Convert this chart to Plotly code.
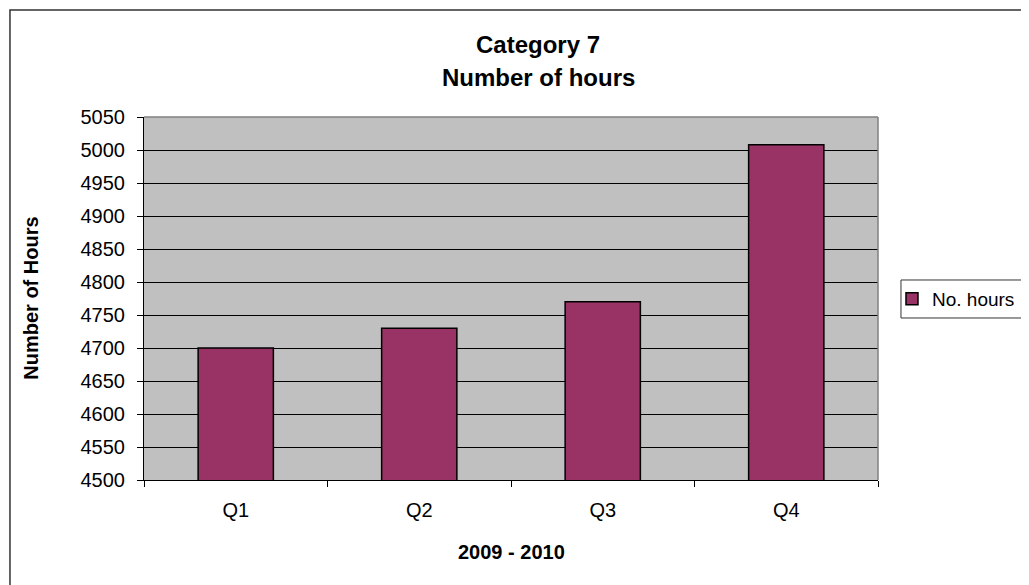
import plotly.graph_objects as go

# quarters for 2009 - 2010
quarters = ["Q1", "Q2", "Q3", "Q4"]
no_hours = [4700, 4730, 4770, 5008]

BAR_COLOR = "#993366"
PLOT_BG = "#C0C0C0"
FONT = "Liberation Sans, Arial, sans-serif"

fig = go.Figure()
fig.add_trace(
    go.Bar(
        name="No. hours",
        x=quarters,
        y=no_hours,
        width=0.41,
        marker=dict(color=BAR_COLOR, line=dict(color="black", width=1.5)),
    )
)

# page body has an 8px margin, so the figure is a bit smaller than the window
fig.update_layout(
    width=1021,
    height=577,
    margin=dict(l=136, r=151, t=109, b=105),
    paper_bgcolor="white",
    plot_bgcolor=PLOT_BG,
    font=dict(family=FONT, size=20, color="black"),
    showlegend=True,
    legend=dict(
        xref="container",
        yref="container",
        x=0.8658,
        xanchor="left",
        y=0.4957,
        yanchor="middle",
        bgcolor="rgba(0,0,0,0)",
        borderwidth=0,
        font=dict(size=19),
    ),
)

fig.update_xaxes(
    type="category",
    showline=True,
    linecolor="black",
    linewidth=1,
    ticks="outside",
    tickson="boundaries",
    ticklen=6,
    tickcolor="black",
    showgrid=False,
    ticklabelstandoff=12,
)
fig.update_yaxes(
    range=[4500, 5050],
    dtick=50,
    showline=True,
    linecolor="black",
    linewidth=1,
    ticks="outside",
    ticklen=6,
    tickcolor="black",
    showgrid=True,
    gridcolor="black",
    gridwidth=1,
    zeroline=False,
    ticklabelstandoff=8,
)

# plot area border (top and right) in gray
fig.add_shape(type="line", xref="paper", yref="paper", x0=0, x1=1, y0=1, y1=1,
              line=dict(color="#808080", width=1.5))
fig.add_shape(type="line", xref="paper", yref="paper", x0=1, x1=1, y0=0, y1=1,
              line=dict(color="#808080", width=1.5))

# chart area border
fig.add_shape(type="rect", xref="paper", yref="paper",
              x0=-0.1826, x1=1.214, y0=-0.3168, y1=1.2948,
              line=dict(color="#333333", width=1.5), layer="below")

# legend frame, runs off the right edge like the original
fig.add_shape(type="rect", xref="paper", yref="paper",
              x0=1.0313, x1=1.2207, y0=0.4463, y1=0.551,
              fillcolor="white", line=dict(color="#333333", width=1))

# two-line chart title
fig.add_annotation(text="<b>Category 7</b>", xref="paper", yref="paper",
                   x=0.537, y=1.2, xanchor="center", yanchor="middle",
                   showarrow=False, font=dict(size=24))
fig.add_annotation(text="<b>Number of hours</b>", xref="paper", yref="paper",
                   x=0.537, y=1.11, xanchor="center", yanchor="middle",
                   showarrow=False, font=dict(size=24))

fig.add_annotation(
    text="<b>Number of Hours</b>",
    xref="paper", yref="paper",
    x=-0.155, y=0.5,
    xanchor="center", yanchor="middle",
    textangle=-90,
    showarrow=False,
    font=dict(size=20),
)
fig.add_annotation(
    text="<b>2009 - 2010</b>",
    xref="paper", yref="paper",
    x=0.5, y=-0.198,
    xanchor="center", yanchor="middle",
    showarrow=False,
    font=dict(size=20),
)

fig.write_html("out.html")
